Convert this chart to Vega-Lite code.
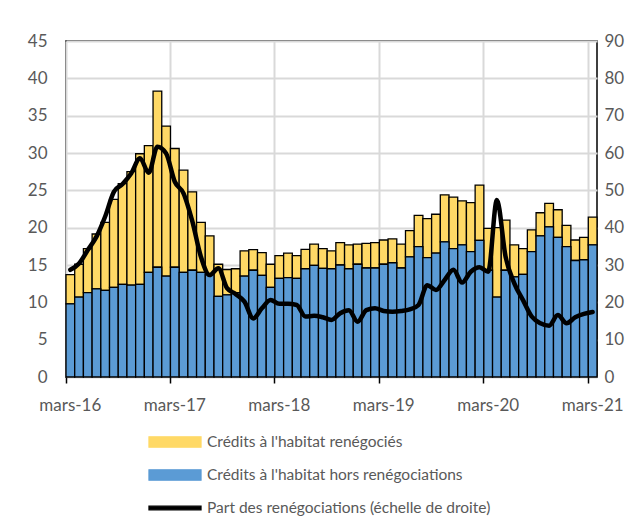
{
  "$schema": "https://vega.github.io/schema/vega-lite/v6.json",
  "width": 531,
  "height": 336,
  "autosize": "none",
  "padding": {"left": 66, "top": 41, "right": 43, "bottom": 154},
  "background": "white",
  "config": {
    "view": {"stroke": "black", "strokeWidth": 1.5},
    "font": "Lato",
    "axis": {"labelFont": "Lato", "labelFontSize": 17, "labelColor": "#595959", "titleFontSize": 0, "labelOverlap": false}
  },
  "data": {
    "values": [
      {"m":"2016-03","total":13.7,"hors":9.8,"part":28.7},
      {"m":"2016-04","total":15.1,"hors":10.7,"part":30.4},
      {"m":"2016-05","total":17.2,"hors":11.3,"part":34.0},
      {"m":"2016-06","total":19.15,"hors":11.8,"part":37.6},
      {"m":"2016-07","total":20.7,"hors":11.6,"part":43.0},
      {"m":"2016-08","total":23.8,"hors":12.0,"part":49.6},
      {"m":"2016-09","total":25.9,"hors":12.4,"part":51.7},
      {"m":"2016-10","total":27.5,"hors":12.3,"part":54.6},
      {"m":"2016-11","total":29.9,"hors":12.4,"part":58.6},
      {"m":"2016-12","total":31.0,"hors":14.0,"part":54.7},
      {"m":"2017-01","total":38.3,"hors":14.7,"part":61.7},
      {"m":"2017-02","total":33.6,"hors":13.5,"part":59.9},
      {"m":"2017-03","total":30.6,"hors":14.7,"part":52.3},
      {"m":"2017-04","total":27.7,"hors":14.0,"part":49.2},
      {"m":"2017-05","total":24.8,"hors":14.3,"part":41.8},
      {"m":"2017-06","total":20.7,"hors":14.0,"part":32.2},
      {"m":"2017-07","total":18.9,"hors":13.7,"part":27.3},
      {"m":"2017-08","total":15.1,"hors":10.8,"part":29.1},
      {"m":"2017-09","total":14.4,"hors":11.0,"part":23.8},
      {"m":"2017-10","total":14.5,"hors":11.3,"part":22.2},
      {"m":"2017-11","total":16.9,"hors":13.5,"part":20.2},
      {"m":"2017-12","total":17.05,"hors":14.3,"part":15.7},
      {"m":"2018-01","total":16.65,"hors":13.6,"part":18.4},
      {"m":"2018-02","total":15.1,"hors":12.0,"part":20.6},
      {"m":"2018-03","total":16.25,"hors":13.2,"part":19.6},
      {"m":"2018-04","total":16.6,"hors":13.3,"part":19.6},
      {"m":"2018-05","total":16.25,"hors":13.2,"part":19.3},
      {"m":"2018-06","total":17.1,"hors":14.5,"part":16.2},
      {"m":"2018-07","total":17.8,"hors":14.95,"part":16.4},
      {"m":"2018-08","total":17.2,"hors":14.55,"part":16.0},
      {"m":"2018-09","total":16.9,"hors":14.5,"part":15.3},
      {"m":"2018-10","total":18.0,"hors":15.0,"part":17.1},
      {"m":"2018-11","total":17.7,"hors":14.5,"part":17.9},
      {"m":"2018-12","total":17.8,"hors":15.1,"part":14.8},
      {"m":"2019-01","total":17.9,"hors":14.6,"part":17.9},
      {"m":"2019-02","total":18.0,"hors":14.6,"part":18.4},
      {"m":"2019-03","total":18.35,"hors":15.1,"part":17.7},
      {"m":"2019-04","total":18.5,"hors":15.3,"part":17.5},
      {"m":"2019-05","total":17.8,"hors":14.6,"part":17.7},
      {"m":"2019-06","total":19.6,"hors":16.1,"part":18.1},
      {"m":"2019-07","total":21.65,"hors":17.45,"part":19.3},
      {"m":"2019-08","total":21.2,"hors":16.0,"part":24.6},
      {"m":"2019-09","total":21.8,"hors":16.6,"part":23.3},
      {"m":"2019-10","total":24.4,"hors":18.1,"part":26.0},
      {"m":"2019-11","total":24.1,"hors":17.2,"part":28.7},
      {"m":"2019-12","total":23.6,"hors":17.7,"part":25.3},
      {"m":"2020-01","total":23.35,"hors":16.8,"part":28.2},
      {"m":"2020-02","total":25.7,"hors":18.3,"part":29.4},
      {"m":"2020-03","total":19.9,"hors":14.3,"part":28.2},
      {"m":"2020-04","total":20.0,"hors":10.7,"part":47.4},
      {"m":"2020-05","total":21.0,"hors":14.3,"part":32.2},
      {"m":"2020-06","total":17.7,"hors":13.4,"part":25.1},
      {"m":"2020-07","total":17.2,"hors":13.75,"part":20.6},
      {"m":"2020-08","total":19.7,"hors":16.8,"part":16.2},
      {"m":"2020-09","total":22.0,"hors":18.9,"part":14.4},
      {"m":"2020-10","total":23.25,"hors":20.1,"part":13.75},
      {"m":"2020-11","total":22.4,"hors":18.7,"part":16.6},
      {"m":"2020-12","total":20.3,"hors":17.45,"part":14.4},
      {"m":"2021-01","total":18.35,"hors":15.6,"part":16.0},
      {"m":"2021-02","total":18.7,"hors":15.7,"part":16.9},
      {"m":"2021-03","total":21.4,"hors":17.7,"part":17.4}
    ]
  },
  "encoding": {
    "x": {
      "field": "m",
      "type": "ordinal",
      "sort": null,
      "scale": {"paddingInner": 0, "paddingOuter": 0},
      "axis": {
        "title": null,
        "values": ["2016-03","2017-03","2018-03","2019-03","2020-03","2021-03"],
        "labelExpr": "'mars-' + slice(datum.value, 2, 4)",
        "bandPosition": 0,
        "labelAngle": 0,
        "labelAlign": "center",
        "grid": true,
        "gridColor": "#d9d9d9",
        "gridWidth": 2,
        "domain": false,
        "ticks": true,
        "tickColor": "black",
        "tickWidth": 1.5,
        "tickSize": 6,
        "labelPadding": 14
      }
    }
  },
  "layer": [
    {
      "layer": [
        {
          "mark": {"type": "bar", "stroke": "black", "strokeWidth": 1.3},
          "encoding": {
            "y": {
              "field": "total",
              "type": "quantitative",
              "scale": {"domain": [0, 45], "nice": false},
              "axis": {
                "title": null,
                "values": [0,5,10,15,20,25,30,35,40,45],
                "grid": true,
                "gridColor": "#d9d9d9",
                "gridWidth": 2,
                "domain": false,
                "ticks": false,
                "labelPadding": 19,
                "labelOverlap": false,
                "labelBound": false
              }
            },
            "y2": {"field": "hors"},
            "color": {"datum": "Crédits à l'habitat renégociés"}
          }
        },
        {
          "mark": {"type": "bar", "stroke": "black", "strokeWidth": 1.3},
          "encoding": {
            "y": {
              "field": "hors",
              "type": "quantitative",
              "axis": {
                "title": null,
                "values": [0,5,10,15,20,25,30,35,40,45],
                "grid": true,
                "gridColor": "#d9d9d9",
                "gridWidth": 2,
                "domain": false,
                "ticks": false,
                "labelPadding": 19,
                "labelOverlap": false,
                "labelBound": false
              }
            },
            "color": {"datum": "Crédits à l'habitat hors renégociations"}
          }
        }
      ]
    },
    {
      "mark": {"type": "line", "strokeWidth": 4.5, "strokeCap": "round", "strokeJoin": "round", "interpolate": "monotone"},
      "encoding": {
        "y": {
          "field": "part",
          "type": "quantitative",
          "scale": {"domain": [0, 90], "nice": false},
          "axis": {
            "orient": "right",
            "title": null,
            "values": [0,10,20,30,40,50,60,70,80,90],
            "grid": false,
            "domain": false,
            "ticks": false,
            "labelPadding": 7,
            "labelOverlap": false
          }
        },
        "color": {
          "datum": "Part des renégociations (échelle de droite)",
          "type": "nominal",
          "scale": {
            "domain": ["Crédits à l'habitat renégociés", "Crédits à l'habitat hors renégociations", "Part des renégociations (échelle de droite)"],
            "range": ["#FFD966", "#5B9BD5", "#000000"]
          },
          "legend": {
            "title": null,
            "orient": "none",
            "legendX": 95,
            "legendY": 387,
            "direction": "vertical",
            "labelFont": "Lato",
            "labelFontSize": 15.5,
            "labelColor": "#595959",
            "labelLimit": 0,
            "labelOffset": 18,
            "rowPadding": 10,
            "symbolSize": 676,
            "symbolStrokeColor": "black",
            "symbolStrokeWidth": 1.3,
            "encode": {
              "symbols": {
                "update": {
                  "shape": {"signal": "datum.value == 'Part des renégociations (échelle de droite)' ? 'M-2,-0.14H2V0.14H-2Z' : 'M-2,-0.4H2V0.4H-2Z'"},
                  "fill": {"scale": "color", "field": "value"},
                  "stroke": {"value": "black"},
                  "strokeWidth": {"value": 1.3},
                  "opacity": {"value": 1}
                }
              }
            }
          }
        }
      }
    }
  ],
  "resolve": {"scale": {"y": "independent"}}
}
